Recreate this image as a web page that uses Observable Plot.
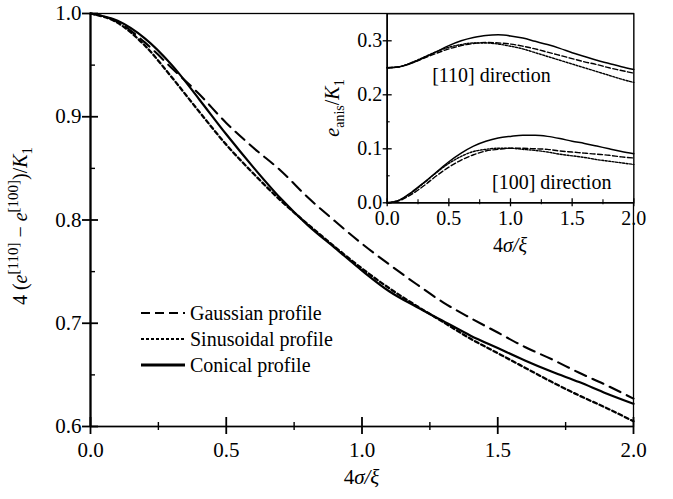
<!DOCTYPE html>
<html><head><meta charset="utf-8">
<script src="https://cdn.jsdelivr.net/npm/d3@7"></script>
<script src="https://cdn.jsdelivr.net/npm/@observablehq/plot@0.6"></script>
<style>
body{margin:0;background:#fff;}
#wrap{position:relative;width:673px;height:499px;font-family:'Liberation Serif','Tinos','Times New Roman','DejaVu Serif',serif;color:#000;}
#wrap svg{display:block;}
#wrap svg text{font-family:'Liberation Serif','Tinos','Times New Roman','DejaVu Serif',serif !important;}
#inset{position:absolute;left:300px;top:0;}
#legend{position:absolute;left:141px;top:300px;font-size:20px;}
#legend .row{display:flex;align-items:center;height:26px;line-height:26px;white-space:nowrap;}
</style></head><body><div id="wrap"><div id="main"></div><div id="inset"></div><div id="legend"></div></div>
<script>
// ---------- data ----------
const xs = [0,0.1,0.2,0.3,0.4,0.5,0.6,0.7,0.8,0.9,1.0,1.1,1.2,1.3,1.4,1.5,1.6,1.7,1.8,1.9,2.0];
const profiles = ["Gaussian profile","Sinusoidal profile","Conical profile"];
// main panel: 4 (e[110] - e[100]) / K1
const gaussMain = [1.000,0.992,0.972,0.947,0.922,0.894,0.870,0.848,0.822,0.799,0.777,0.757,0.738,0.720,0.705,0.691,0.677,0.665,0.652,0.640,0.627];
const sinMain   = [1.000,0.991,0.969,0.938,0.905,0.873,0.845,0.819,0.796,0.774,0.753,0.734,0.717,0.701,0.685,0.671,0.657,0.643,0.630,0.618,0.605];
const conMain   = [1.000,0.993,0.976,0.950,0.917,0.883,0.851,0.821,0.795,0.773,0.751,0.731,0.716,0.702,0.688,0.676,0.664,0.653,0.643,0.632,0.622];
// inset: e_anis / K1
const gauss110 = [0.250,0.252,0.259,0.268,0.277,0.285,0.291,0.295,0.297,0.296,0.294,0.290,0.285,0.279,0.273,0.267,0.261,0.256,0.250,0.245,0.240];
const sin110   = [0.250,0.252,0.260,0.270,0.280,0.288,0.293,0.296,0.296,0.294,0.290,0.285,0.278,0.271,0.264,0.257,0.250,0.243,0.236,0.229,0.223];
const con110   = [0.250,0.252,0.259,0.269,0.280,0.291,0.300,0.306,0.310,0.311,0.309,0.305,0.299,0.293,0.286,0.278,0.271,0.264,0.258,0.252,0.247];
const gauss100 = [0,0.004,0.016,0.032,0.050,0.066,0.079,0.089,0.096,0.099,0.101,0.101,0.100,0.099,0.096,0.094,0.092,0.090,0.088,0.085,0.083];
const sin100   = [0,0.005,0.019,0.037,0.056,0.073,0.086,0.095,0.099,0.101,0.101,0.099,0.097,0.094,0.090,0.087,0.084,0.080,0.077,0.074,0.071];
const con100   = [0,0.005,0.020,0.038,0.057,0.076,0.092,0.105,0.114,0.120,0.123,0.125,0.125,0.123,0.119,0.114,0.110,0.105,0.100,0.095,0.091];
// ticks
const mainXTicks = [0,0.5,1.0,1.5,2.0];
const mainXMinor = [0.25,0.75,1.25,1.75];
const mainYTicks = [0.6,0.7,0.8,0.9,1.0];
const mainYMinor = [0.65,0.75,0.85,0.95];
const insetXTicks = [0,0.5,1.0,1.5,2.0];
const insetXMinor = [0.25,0.75,1.25,1.75];
const insetYTicks = [0,0.1,0.2,0.3];
const insetYMinor = [0.05,0.15,0.25];
const directionLabels = ["[110] direction","[100] direction"];
const directionX = [0.365,0.85];
const directionY = [0.236,0.038];

// ---------- helpers ----------
const dashMain  = {"Gaussian profile":"12,7","Sinusoidal profile":"4,3","Conical profile":null};
const dashInset = {"Gaussian profile":"5,2.5","Sinusoidal profile":"2,1.5","Conical profile":null};
const dashLegend= {"Gaussian profile":"9,5","Sinusoidal profile":"3,2","Conical profile":null};
const rows = (arr, p) => xs.map((x,i)=>({x, y:arr[i], p}));
const fmt = d3.format(".1f");
const serif = "'Liberation Serif','Tinos','Times New Roman','DejaVu Serif',serif";

// ---------- main plot ----------
const W = 673, H = 499, mL = 90, mR = 40, mT = 13, mB = 73;
const iw = W - mL - mR, ih = H - mT - mB;
const mainSeries = [gaussMain, sinMain, conMain];
const main = Plot.plot({
  width: W, height: H, marginLeft: mL, marginRight: mR, marginTop: mT, marginBottom: mB,
  x: {domain: [0, 2]},
  y: {domain: [0.6, 1.0]},
  style: {fontFamily: serif, fontSize: "21px", background: "white", color: "black", overflow: "visible"},
  marks: [
    Plot.frame({stroke: "black", strokeWidth: 1.3}),
    ...profiles.map((p,i) => Plot.line(rows(mainSeries[i], p), {x: "x", y: "y", stroke: "black",
        strokeWidth: i === 2 ? 2.2 : (i === 1 ? 2.3 : 2.1), strokeDasharray: dashMain[p], curve: "monotone-x"})),
    Plot.ruleX([0], {stroke: "black", strokeWidth: 2.2}),
    Plot.ruleY([0.6], {stroke: "black", strokeWidth: 1.6}),
    Plot.ruleX(mainXTicks, {x: d=>d, stroke: "black", strokeWidth: 1.8, insetTop: ih - 9, insetBottom: -8}),
    Plot.ruleX(mainXMinor, {x: d=>d, stroke: "black", strokeWidth: 1.4, insetTop: ih - 4, insetBottom: -4}),
    Plot.ruleY(mainYTicks, {y: d=>d, stroke: "black", strokeWidth: 1.8, insetLeft: -8, insetRight: iw - 8}),
    Plot.ruleY(mainYMinor, {y: d=>d, stroke: "black", strokeWidth: 1.4, insetLeft: 0, insetRight: iw - 5}),
    Plot.axisX({ticks: mainXTicks, tickSize: 0, tickPadding: 16, tickFormat: fmt, label: null, fontSize: 21}),
    Plot.axisY({ticks: mainYTicks, tickSize: 0, tickPadding: 9, tickFormat: fmt, label: null, fontSize: 21})
  ]
});
document.getElementById("main").appendChild(main);

// titles for main plot
{
  const svg = d3.select(main);
  const xs_ = main.scale("x");
  const cx = (xs_.apply(0) + xs_.apply(2)) / 2;
  const t = svg.append("text").attr("x", cx).attr("y", 484).attr("text-anchor", "middle")
    .attr("font-size", 21).attr("fill", "black");
  t.append("tspan").text("4");
  t.append("tspan").attr("font-style", "italic").text("σ/ξ");
  const cy = 226;
  const yt = svg.append("text").attr("transform", `translate(27,${cy}) rotate(-90)`).attr("text-anchor", "middle")
    .attr("font-size", 20).attr("fill", "black");
  yt.append("tspan").text("4 (");
  yt.append("tspan").attr("font-style", "italic").text("e");
  yt.append("tspan").attr("font-size", 15).attr("dy", -9).text("[110]");
  yt.append("tspan").attr("dy", 9).text(" − ");
  yt.append("tspan").attr("font-style", "italic").text("e");
  yt.append("tspan").attr("font-size", 15).attr("dy", -9).text("[100]");
  yt.append("tspan").attr("dy", 9).text(")/");
  yt.append("tspan").attr("font-style", "italic").text("K");
  yt.append("tspan").attr("font-size", 15).attr("dy", 5).text("1");
}

// ---------- inset ----------
const IW = 373, IH = 260, imL = 86.7, imR = 39.7, imT = 13.3, imB = 57.7;
const iiw = IW - imL - imR, iih = IH - imT - imB;
const s110 = [gauss110, sin110, con110], s100 = [gauss100, sin100, con100];
const insetLines = [];
profiles.forEach((p,i) => {
  for (const arr of [s110[i], s100[i]]) {
    insetLines.push(Plot.line(rows(arr, p), {x: "x", y: "y", stroke: "black",
      strokeWidth: i === 2 ? 1.5 : 1.4, strokeDasharray: dashInset[p], curve: "monotone-x"}));
  }
});
const inset = Plot.plot({
  width: IW, height: IH, marginLeft: imL, marginRight: imR, marginTop: imT, marginBottom: imB,
  x: {domain: [0, 2]},
  y: {domain: [0, 0.35]},
  style: {fontFamily: serif, fontSize: "19px", background: "transparent", color: "black", overflow: "visible"},
  marks: [
    Plot.frame({fill: "white", stroke: "black", strokeWidth: 1.3}),
    ...insetLines,
    Plot.ruleX([0], {stroke: "black", strokeWidth: 1.6}),
    Plot.ruleY([0], {stroke: "black", strokeWidth: 1.6}),
    Plot.ruleX(insetXTicks, {x: d=>d, stroke: "black", strokeWidth: 1.3, insetTop: iih - 4, insetBottom: -4}),
    Plot.ruleX(insetXMinor, {x: d=>d, stroke: "black", strokeWidth: 1.1, insetTop: iih - 3, insetBottom: -2}),
    Plot.ruleY(insetYTicks, {y: d=>d, stroke: "black", strokeWidth: 1.3, insetLeft: -4, insetRight: iiw - 5}),
    Plot.ruleY(insetYMinor, {y: d=>d, stroke: "black", strokeWidth: 1.1, insetLeft: 0, insetRight: iiw - 3}),
    Plot.axisX({ticks: insetXTicks, tickSize: 0, tickPadding: 8, tickFormat: fmt, label: null, fontSize: 20}),
    Plot.axisY({ticks: insetYTicks, tickSize: 0, tickPadding: 5, tickFormat: fmt, label: null, fontSize: 20}),
    Plot.text(directionLabels, {x: (d,i)=>directionX[i], y: (d,i)=>directionY[i], text: d=>d,
      textAnchor: "start", fontSize: 20, fill: "black"})
  ]
});
document.getElementById("inset").appendChild(inset);
{
  const svg = d3.select(inset);
  const xs_ = inset.scale("x");
  const cx = (xs_.apply(0) + xs_.apply(2)) / 2;
  const t = svg.append("text").attr("x", cx).attr("y", 252).attr("text-anchor", "middle")
    .attr("font-size", 20).attr("fill", "black");
  t.append("tspan").text("4");
  t.append("tspan").attr("font-style", "italic").text("σ/ξ");
  const yt = svg.append("text").attr("transform", "translate(39,108) rotate(-90)").attr("text-anchor", "middle")
    .attr("font-size", 20).attr("fill", "black");
  yt.append("tspan").attr("font-style", "italic").text("e");
  yt.append("tspan").attr("font-size", 14).attr("dy", 5).text("anis");
  yt.append("tspan").attr("dy", -5).text("/");
  yt.append("tspan").attr("font-style", "italic").text("K");
  yt.append("tspan").attr("font-size", 14).attr("dy", 5).text("1");
}

// ---------- legend ----------
{
  const lg = d3.select("#legend");
  profiles.forEach(p => {
    const row = lg.append("div").attr("class", "row");
    const s = row.append("svg").attr("width", 49).attr("height", 26);
    s.append("line").attr("x1", 0).attr("x2", 44).attr("y1", 13).attr("y2", 13)
      .attr("stroke", "black").attr("stroke-width", p === "Conical profile" ? 3 : 2.2)
      .attr("stroke-dasharray", dashLegend[p]);
    row.append("span").text(p);
  });
}
</script></body></html>
